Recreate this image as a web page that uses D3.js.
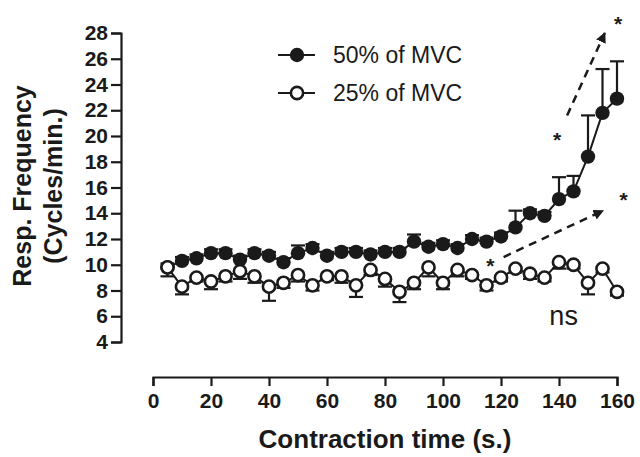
<!DOCTYPE html>
<html>
<head>
<meta charset="utf-8">
<script src="https://cdn.jsdelivr.net/npm/d3@7"></script>
<style>
  body { margin: 0; background: #fff; }
  text { font-family: "Liberation Sans", Arial, sans-serif; fill: #1a1a1a; }
</style>
</head>
<body>
<script>
/* ---------------------------- */
/* DATA                         */
/* ---------------------------- */

// Contraction time (s.)
const times = [5, 10, 15, 20, 25, 30, 35, 40, 45, 50, 55, 60, 65, 70, 75, 80,
               85, 90, 95, 100, 105, 110, 115, 120, 125, 130, 135, 140, 145, 150, 155, 160];

// 50% of MVC : mean and SEM (error bar drawn upward)
const mvc50 = [9.8, 10.3, 10.5, 10.9, 10.9, 10.4, 10.9, 10.7, 10.2, 10.9, 11.3, 10.7, 11.0, 11.0, 10.8, 11.0,
               11.0, 11.8, 11.4, 11.6, 11.3, 12.0, 11.8, 12.2, 12.9, 14.0, 13.8, 15.1, 15.7, 18.4, 21.8, 22.9];
const sem50 = [0.3, 0.3, 0.3, 0.3, 0.3, 0.3, 0.3, 0.3, 0.3, 0.6, 0.3, 0.3, 0.3, 0.3, 0.3, 0.3,
               0.3, 0.55, 0.3, 0.3, 0.3, 0.3, 0.3, 0.3, 1.3, 0.3, 0.3, 1.7, 1.2, 3.2, 3.4, 2.9];

// 25% of MVC : mean and SEM (error bar drawn downward)
const mvc25 = [9.8, 8.3, 9.0, 8.7, 9.1, 9.5, 9.1, 8.3, 8.6, 9.2, 8.4, 9.1, 9.1, 8.4, 9.6, 8.9,
               7.9, 8.6, 9.8, 8.6, 9.6, 9.2, 8.4, 9.0, 9.7, 9.3, 9.0, 10.2, 10.0, 8.6, 9.7, 7.9];
const sem25 = [0.7, 0.6, 0.3, 0.6, 0.4, 0.6, 0.5, 1.1, 0.4, 0.5, 0.4, 0.3, 0.5, 0.9, 0.4, 0.6,
               0.8, 0.5, 0.7, 0.5, 0.5, 0.3, 0.4, 0.3, 0.3, 0.4, 0.3, 0.5, 0.3, 0.9, 0.3, 0.3];

const xTicks = [0, 20, 40, 60, 80, 100, 120, 140, 160];
const yTicks = [4, 6, 8, 10, 12, 14, 16, 18, 20, 22, 24, 26, 28];

// Annotations, in data units [time, value]
const arrows = [
  {from: [142.8, 21.6], to: [155.8, 28.0]},
  {from: [120.9, 10.6], to: [155.2, 14.2]}
];
const stars = [[139.3, 20.1], [160.4, 29.1], [116.3, 10.3], [162.3, 15.4]];
const nsLabel = {t: 141.6, v: 6.0, text: "ns"};

const legendNames = ["50% of MVC", "25% of MVC"];

/* ---------------------------- */
/* CANVAS                       */
/* ---------------------------- */

const w = 640, h = 457;
const ink = "#1a1a1a";

let svg = d3.select("body")
  .append("svg")
    .attr("width", w)
    .attr("height", h);

// Scales (x axis is offset from y axis, Prism style)
let x = d3.scaleLinear().domain([0, 160]).range([153, 617]);
let y = d3.scaleLinear().domain([4, 28]).range([342, 33]);

/* ---------------------------- */
/* AXES                         */
/* ---------------------------- */

let yAxis = svg.append("g")
  .attr("transform", "translate(121,0)")
  .call(d3.axisLeft(y).tickValues(yTicks).tickSize(10).tickPadding(3));

let xAxis = svg.append("g")
  .attr("transform", "translate(0,377)")
  .call(d3.axisBottom(x).tickValues(xTicks).tickSize(9).tickPadding(7));

[xAxis, yAxis].forEach(a => {
  a.select(".domain").attr("stroke", ink).attr("stroke-width", 2.2);
  a.selectAll(".tick line").attr("stroke", ink).attr("stroke-width", 2.2);
  a.selectAll(".tick text")
    .style("font-family", "'Liberation Sans', Arial, sans-serif")
    .style("font-size", "21px")
    .style("font-weight", "bold")
    .attr("fill", ink);
});

// Axis titles
svg.append("text")
  .attr("x", 385)
  .attr("y", 448)
  .attr("text-anchor", "middle")
  .style("font-size", "26px")
  .style("font-weight", "bold")
  .text("Contraction time (s.)");

let yTitle = svg.append("text")
  .attr("transform", "translate(0,186) rotate(-90)")
  .attr("text-anchor", "middle")
  .style("font-size", "25px")
  .style("font-weight", "bold");
yTitle.append("tspan").attr("x", 0).attr("y", 31).text("Resp. Frequency");
yTitle.append("tspan").attr("x", 0).attr("y", 62).text("(Cycles/min.)");

/* ---------------------------- */
/* SERIES                       */
/* ---------------------------- */

const cap = 7;

function drawSeries(vals, sems, dir, fill) {
  let data = times.map((t, i) => ({t: t, v: vals[i], s: sems[i]}));
  let g = svg.append("g");

  // error bars (one side only)
  let eb = g.selectAll(".eb").data(data).enter().append("g");
  eb.append("line")
    .attr("x1", d => x(d.t)).attr("x2", d => x(d.t))
    .attr("y1", d => y(d.v)).attr("y2", d => y(d.v + dir * d.s))
    .attr("stroke", ink).attr("stroke-width", 2.2);
  eb.append("line")
    .attr("x1", d => x(d.t) - cap).attr("x2", d => x(d.t) + cap)
    .attr("y1", d => y(d.v + dir * d.s)).attr("y2", d => y(d.v + dir * d.s))
    .attr("stroke", ink).attr("stroke-width", 2.2);

  // connecting line
  g.append("path")
    .datum(data)
    .attr("fill", "none")
    .attr("stroke", ink)
    .attr("stroke-width", 2)
    .attr("d", d3.line().x(d => x(d.t)).y(d => y(d.v)));

  // markers
  g.selectAll("circle").data(data).enter().append("circle")
    .attr("cx", d => x(d.t))
    .attr("cy", d => y(d.v))
    .attr("r", fill ? 7.2 : 6.1)
    .attr("fill", fill ? ink : "#fff")
    .attr("stroke", ink)
    .attr("stroke-width", fill ? 0 : 2.6);
}

drawSeries(mvc50, sem50, 1, true);
drawSeries(mvc25, sem25, -1, false);

/* ---------------------------- */
/* ANNOTATIONS                  */
/* ---------------------------- */

svg.append("defs").append("marker")
  .attr("id", "head")
  .attr("viewBox", "0 0 10 10")
  .attr("refX", 9).attr("refY", 5)
  .attr("markerWidth", 4.2).attr("markerHeight", 4.2)
  .attr("markerUnits", "strokeWidth")
  .attr("orient", "auto")
  .append("path")
    .attr("d", "M0,0 L10,5 L0,10 Z")
    .attr("fill", ink);

svg.selectAll(".arrow").data(arrows).enter().append("line")
  .attr("class", "arrow")
  .attr("x1", d => x(d.from[0])).attr("y1", d => y(d.from[1]))
  .attr("x2", d => x(d.to[0])).attr("y2", d => y(d.to[1]))
  .attr("stroke", ink)
  .attr("stroke-width", 2.5)
  .attr("stroke-dasharray", "8,6")
  .attr("marker-end", "url(#head)");

svg.selectAll(".star").data(stars).enter().append("text")
  .attr("class", "star")
  .attr("x", d => x(d[0]))
  .attr("y", d => y(d[1]) + 12)
  .attr("text-anchor", "middle")
  .style("font-size", "21px")
  .style("font-weight", "bold")
  .text("*");

svg.append("text")
  .attr("x", x(nsLabel.t))
  .attr("y", y(nsLabel.v) + 9)
  .attr("text-anchor", "middle")
  .style("font-size", "27px")
  .text(nsLabel.text);

/* ---------------------------- */
/* LEGEND                       */
/* ---------------------------- */

let legend = svg.selectAll(".legend").data(legendNames).enter().append("g")
  .attr("class", "legend")
  .attr("transform", (d, i) => "translate(278," + (55 + i * 38) + ")");

legend.append("line")
  .attr("x1", 0).attr("x2", 37)
  .attr("stroke", ink).attr("stroke-width", 2.2);
legend.append("circle")
  .attr("cx", 19).attr("cy", 0)
  .attr("r", (d, i) => i == 0 ? 7.2 : 6.1)
  .attr("fill", (d, i) => i == 0 ? ink : "#fff")
  .attr("stroke", ink)
  .attr("stroke-width", (d, i) => i == 0 ? 0 : 2.6);
legend.append("text")
  .attr("x", 55)
  .attr("y", 8)
  .style("font-size", "23px")
  .text(d => d);
</script>
</body>
</html>
